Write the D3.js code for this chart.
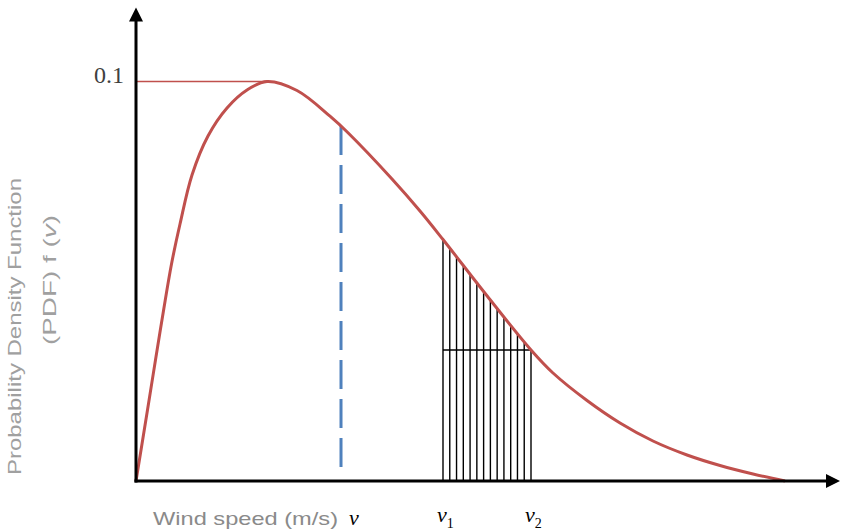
<!DOCTYPE html>
<html><head><meta charset="utf-8">
<script src="https://cdn.jsdelivr.net/npm/d3@7"></script>
<style>html,body{margin:0;padding:0;background:#fff;} svg{display:block;}</style>
</head><body>
<svg id="chart" width="843" height="532"></svg>
<script>
// ---- data ----
const windSpeed = [0, 0.408, 0.692, 0.969, 1.261, 1.563, 1.989, 2.557, 3.232, 3.942, 4.652, 5.717, 6.889, 7.528, 9.091, 10.085, 10.902, 12.464, 14.027, 14.808, 16.016, 17.188, 18.359, 19.567, 20.739, 21.911, 23.047];
const pdfValues = [0, 0.01777, 0.03029, 0.04230, 0.05432, 0.06433, 0.07660, 0.08636, 0.09337, 0.09787, 0.10000, 0.09775, 0.09131, 0.08716, 0.07559, 0.06758, 0.06045, 0.04636, 0.03279, 0.02703, 0.02015, 0.01452, 0.01001, 0.00651, 0.00388, 0.00175, 0];
const peakSpeed = 4.652;
const yTickValues = [0.1];
const yTickLabels = ["0.1"];
const meanSpeed = 7.28;      // dashed line "v"
const v1 = 10.902, v2 = 14.027;
const hatchCount = 14;
const xMax = 25, yMax = 0.1185;

const svg = d3.select("#chart");
const x = d3.scaleLinear().domain([0, xMax]).range([136, 840]);
const y = d3.scaleLinear().domain([0, yMax]).range([481, 7.6]);

const pts = windSpeed.map((s, i) => [s, pdfValues[i]]);
const line = d3.line().x(d => x(d[0])).y(d => y(d[1])).curve(d3.curveCatmullRom.alpha(0.5));

// hidden path for lookups
const curvePath = svg.append("path").attr("d", line(pts)).attr("fill", "none").attr("stroke", "none");
const node = curvePath.node();
const L = node.getTotalLength();
function curveY(px) {
  let lo = 0, hi = L;
  for (let i = 0; i < 40; i++) {
    const mid = (lo + hi) / 2;
    if (node.getPointAtLength(mid).x < px) lo = mid; else hi = mid;
  }
  return node.getPointAtLength((lo + hi) / 2).y;
}

// hatch
const hatch = svg.append("g").attr("stroke", "#000").attr("stroke-width", 1.4);
const hx = d3.range(hatchCount).map(i => v1 + (v2 - v1) * i / (hatchCount - 1));
hx.forEach(s => {
  hatch.append("line").attr("x1", x(s)).attr("x2", x(s)).attr("y1", y(0)).attr("y2", curveY(x(s)));
});
hatch.append("line").attr("x1", x(v1)).attr("x2", x(v2)).attr("y1", curveY(x(v2))).attr("y2", curveY(x(v2)));

// dashed mean line
svg.append("line").attr("x1", x(meanSpeed)).attr("x2", x(meanSpeed))
  .attr("y1", curveY(x(meanSpeed))).attr("y2", y(0) - 8)
  .attr("stroke", "#4f81bd").attr("stroke-width", 3).attr("stroke-dasharray", "29,10");

// 0.1 reference line
svg.append("line").attr("x1", x(0)).attr("x2", x(peakSpeed))
  .attr("y1", y(yTickValues[0])).attr("y2", y(yTickValues[0]))
  .attr("stroke", "#c0504d").attr("stroke-width", 1.5);

// curve
svg.append("path").attr("d", line(pts)).attr("fill", "none")
  .attr("stroke", "#c0504d").attr("stroke-width", 3);

// axes
svg.append("line").attr("x1", x(0)).attr("x2", x(0)).attr("y1", y(0) + 1.5).attr("y2", y(yMax) + 10)
  .attr("stroke", "#000").attr("stroke-width", 3);
svg.append("line").attr("x1", x(0) - 1.5).attr("x2", x(xMax) - 10).attr("y1", y(0)).attr("y2", y(0))
  .attr("stroke", "#000").attr("stroke-width", 3);
svg.append("path").attr("d", `M${x(0)},${y(yMax)} L${x(0) - 7},${y(yMax) + 14} L${x(0) + 7},${y(yMax) + 14} Z`).attr("fill", "#000");
svg.append("path").attr("d", `M${x(xMax)},${y(0)} L${x(xMax) - 14},${y(0) - 7} L${x(xMax) - 14},${y(0) + 7} Z`).attr("fill", "#000");

// y tick label
yTickValues.forEach((v, i) => {
  svg.append("text").attr("x", 124).attr("y", y(v) + 1).attr("text-anchor", "end")
    .attr("font-family", "Liberation Serif, Times New Roman, serif").attr("font-size", 24)
    .attr("fill", "#404040").text(yTickLabels[i]);
});

// y axis label
svg.append("text").attr("transform", "translate(21,475) rotate(-90)")
  .attr("font-family", "Liberation Sans, Arial, sans-serif").attr("font-size", 18)
  .attr("fill", "#a0a0a0").attr("textLength", 297).attr("lengthAdjust", "spacingAndGlyphs")
  .text("Probability Density Function");
const t2 = svg.append("text").attr("transform", "translate(56,345) rotate(-90)")
  .attr("font-family", "Liberation Sans, Arial, sans-serif").attr("font-size", 18)
  .attr("fill", "#a0a0a0").attr("textLength", 130).attr("lengthAdjust", "spacingAndGlyphs");
t2.append("tspan").text("(PDF) f (");
t2.append("tspan").attr("font-style", "italic").text("v");
t2.append("tspan").text(")");

// x axis label
svg.append("text").attr("x", 153).attr("y", 525)
  .attr("font-family", "Liberation Sans, Arial, sans-serif").attr("font-size", 19)
  .attr("fill", "#8a8a8a").attr("textLength", 185).attr("lengthAdjust", "spacingAndGlyphs")
  .text("Wind speed (m/s)");
const serif = "Liberation Serif, Times New Roman, serif";
svg.append("text").attr("x", x(meanSpeed) + 8).attr("y", 525).attr("font-family", serif)
  .attr("font-style", "italic").attr("font-size", 22).attr("fill", "#000").text("v");
[[v1, "1"], [v2, "2"]].forEach(([s, sub]) => {
  const t = svg.append("text").attr("x", x(s) - 6).attr("y", 522).attr("font-family", serif)
    .attr("font-size", 22).attr("fill", "#000");
  t.append("tspan").attr("font-style", "italic").text("v");
  t.append("tspan").attr("font-size", 14).attr("dy", 6).text(sub);
});
</script>
</body></html>
